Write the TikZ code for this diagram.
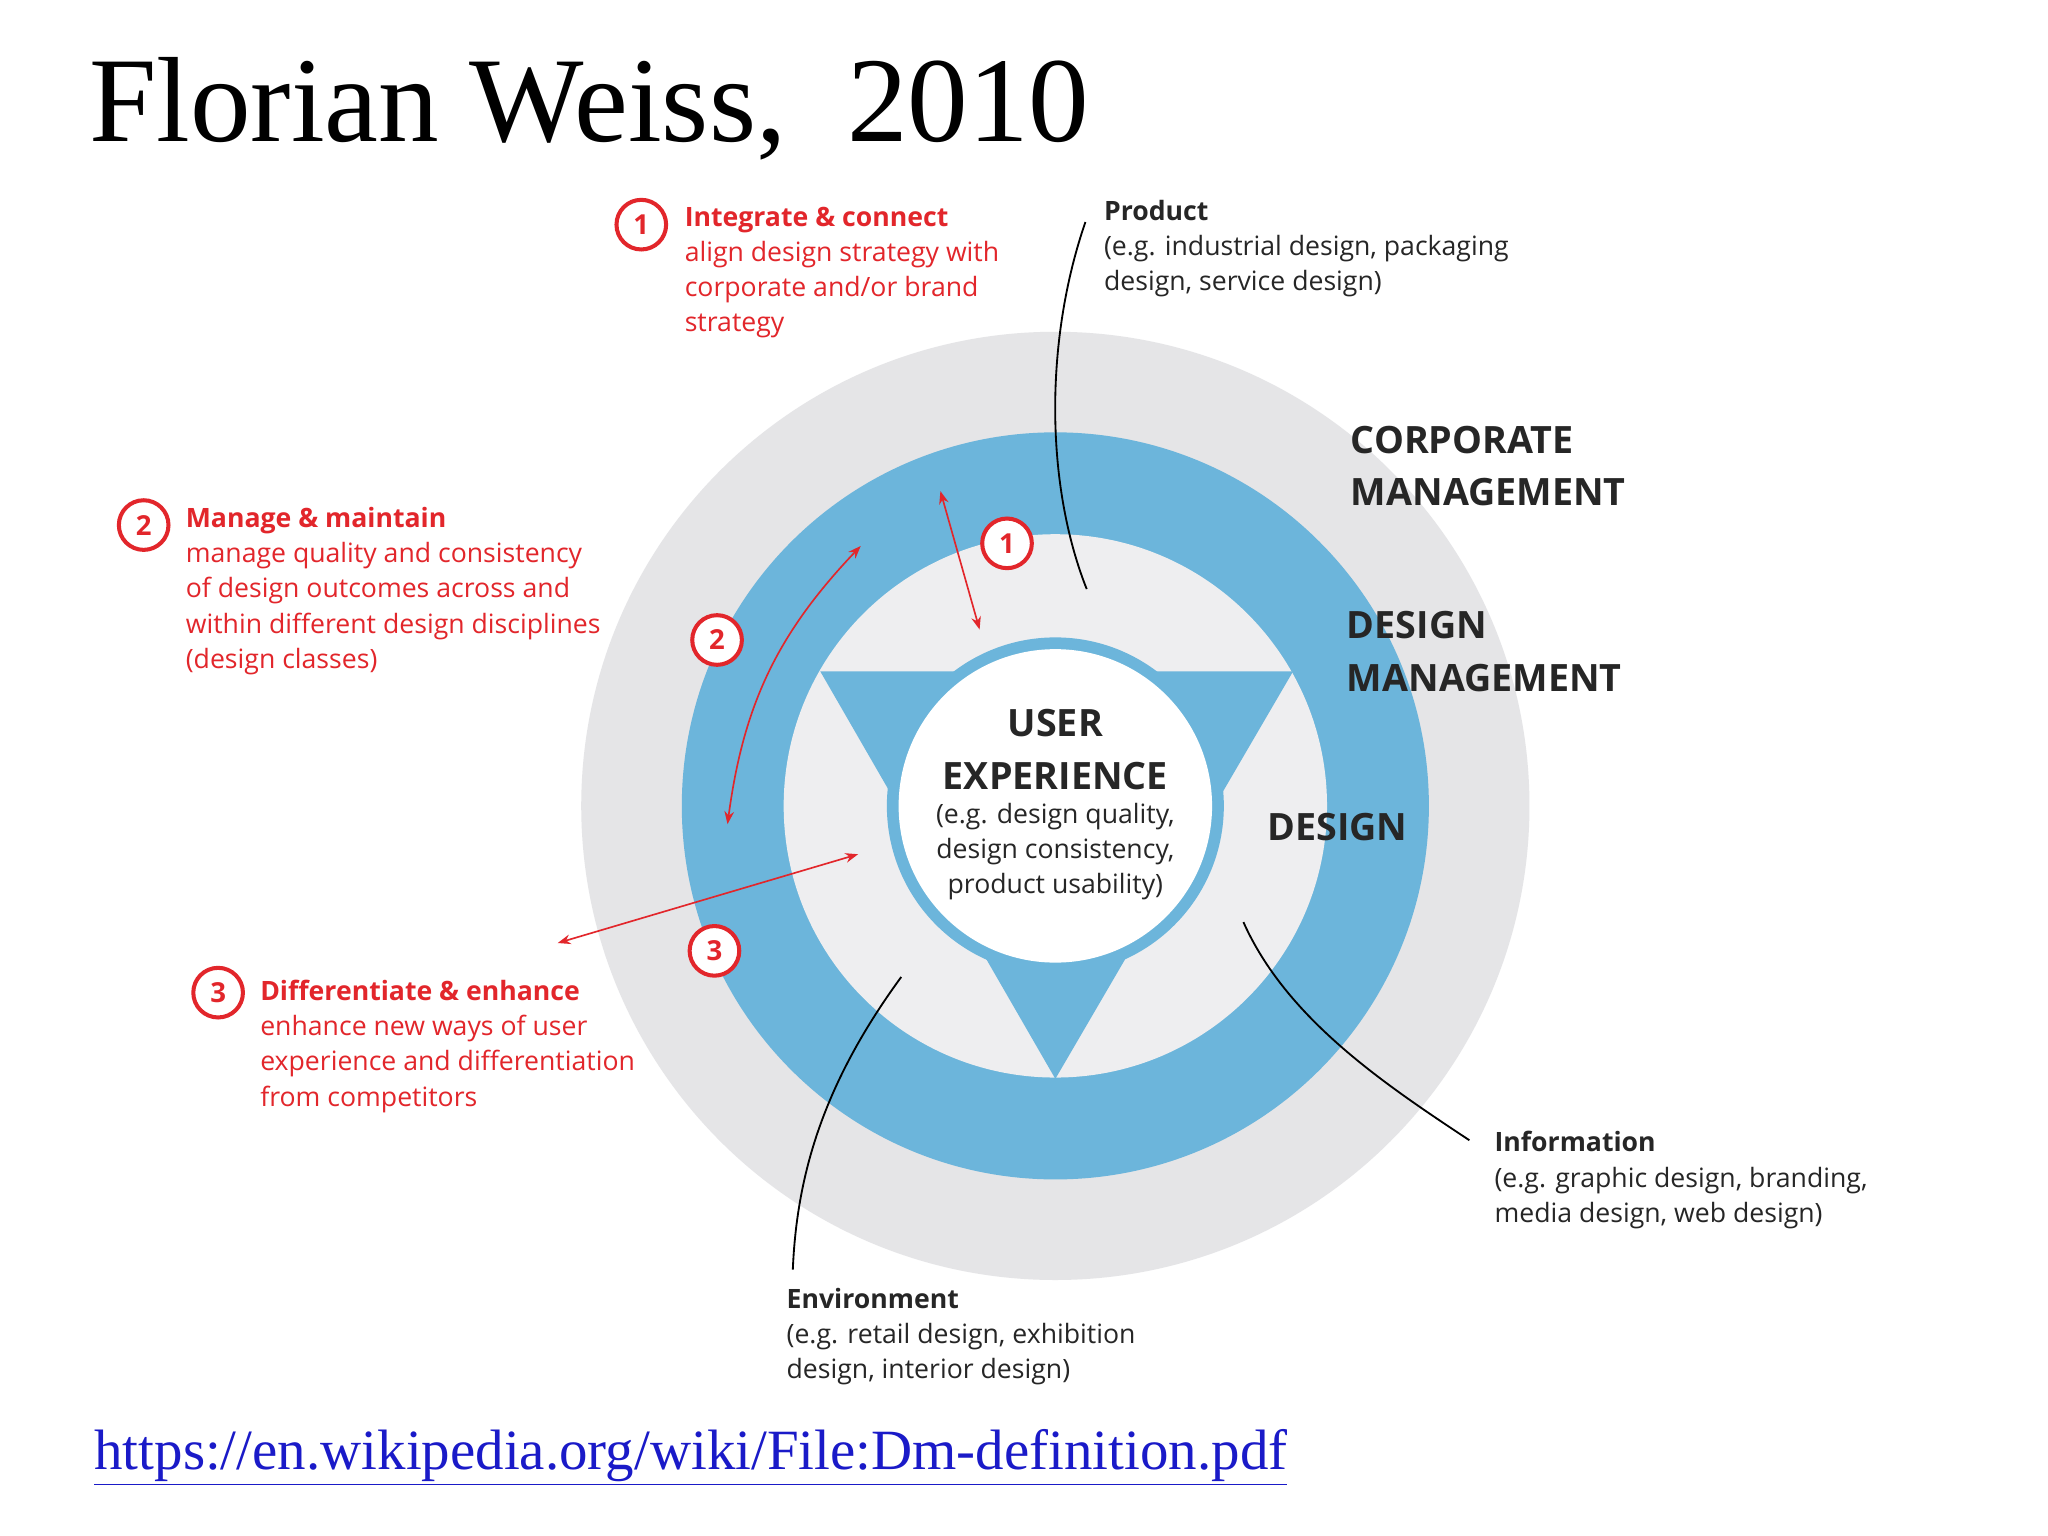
\documentclass[tikz,border=0pt]{standalone}
\usepackage{fontspec}
\setmainfont{Liberation Serif}
\newfontfamily\osans{Open Sans}
\usetikzlibrary{arrows.meta}
\definecolor{dmred}{HTML}{E2262B}
\definecolor{dmblue}{HTML}{6CB5DB}
\definecolor{dmgrey}{HTML}{E5E5E7}
\definecolor{dmlight}{HTML}{EEEEF0}
\definecolor{urlblue}{HTML}{1A1AC8}
\tikzset{
 num/.style={circle,draw=dmred,line width=2.2pt,text=dmred,inner sep=0pt,minimum size=0.95cm,font=\osans\bfseries\fontsize{15}{15}\selectfont,fill=white},
 redtxt/.style={anchor=north west,align=left,text=dmred,font=\osans\fontsize{14.5}{19.2}\selectfont,inner sep=0pt},
 blktxt/.style={anchor=north west,align=left,text=black!85,font=\osans\fontsize{14.5}{19.2}\selectfont,inner sep=0pt},
 biglab/.style={anchor=north west,align=left,text=black!85,font=\osans\bfseries\fontsize{20.5}{28.5}\selectfont,inner sep=0pt},
 redarrow/.style={dmred,line width=0.9pt,{Stealth[length=7pt]}-{Stealth[length=7pt]}},
 leader/.style={black,line width=1pt}
}
\begin{document}
\begin{tikzpicture}[x=0.025cm,y=-0.025cm]
\useasboundingbox (0,0) rectangle (1568,1176);
\fill[white] (0,0) rectangle (1568,1176);
% rings
\fill[dmgrey] (808,617) circle (363);
\fill[dmblue] (808,617) circle (286);
\fill[dmlight] (808,617) circle (208);
\fill[dmblue] (628,514) -- (990,514) -- (808,826) -- cycle;
\fill[dmblue] (808,617) circle (129);
\node[circle,fill=white,minimum size=240*0.025cm,inner sep=0pt] (ux) at (808,617) {};
% texts in center
\node[font=\osans\bfseries\fontsize{20.5}{28.5}\selectfont,text=black!85,align=center] (uxt) at (808,574) {USER\\EXPERIENCE};
\node[font=\osans\fontsize{14.5}{19.2}\selectfont,text=black!85,align=center] (uxs) at (808,652) {(e.g. design quality,\\design consistency,\\product usability)};
\node[biglab] (corp) at (1034,326) {CORPORATE\\MANAGEMENT};
\node[biglab] (dm) at (1031,468) {DESIGN\\MANAGEMENT};
\node[biglab] (des) at (970,622) {DESIGN};
% leaders
\coordinate (p1) at (831,170); \coordinate (p2) at (832,451);
\draw[leader] (p1) .. controls (800,260) and (800,370) .. (p2);
\coordinate (e1) at (690,748); \coordinate (e2) at (607,972);
\draw[leader] (e1) .. controls (630,830) and (610,900) .. (e2);
\coordinate (i1) at (952,706); \coordinate (i2) at (1125,873);
\draw[leader] (i1) .. controls (985,780) and (1060,830) .. (i2);
\node[blktxt] (prod) at (845,153) {\textbf{Product}\\(e.g. industrial design, packaging\\design, service design)};
\node[blktxt] (env) at (602,986) {\textbf{Environment}\\(e.g. retail design, exhibition\\design, interior design)};
\node[blktxt] (info) at (1144,866) {\textbf{Information}\\(e.g. graphic design, branding,\\media design, web design)};
% red arrows
\coordinate (a1) at (720,376); \coordinate (a2) at (750,482);
\draw[redarrow] (a1) -- (a2);
\coordinate (b1) at (659,418); \coordinate (b2) at (557,631);
\draw[redarrow] (b1) to[bend right=18] (b2);
\coordinate (c1) at (427,722); \coordinate (c2) at (657,654);
\draw[redarrow] (c1) -- (c2);
% numbers
\node[num] (n1a) at (491,172) {1};
\node[num] (n2a) at (110,402) {2};
\node[num] (n3a) at (167,760) {3};
\node[num] (n1b) at (771,416) {1};
\node[num] (n2b) at (549,490) {2};
\node[num] (n3b) at (547,728) {3};
\node[redtxt] (t1) at (524,158) {\textbf{Integrate \& connect}\\align design strategy with\\corporate and/or brand\\strategy};
\node[redtxt] (t2) at (142,388) {\textbf{Manage \& maintain}\\manage quality and consistency\\of design outcomes across and\\within different design disciplines\\(design classes)};
\node[redtxt] (t3) at (199,750) {\textbf{Differentiate \& enhance}\\enhance new ways of user\\experience and differentiation\\from competitors};
% title and url
\node[anchor=base west,inner sep=0pt,font=\fontsize{66}{66}\selectfont] (title) at (68,108) {Florian Weiss,\ \ 2010};
\node[anchor=base west,inner sep=0pt,text=urlblue,font=\fontsize{31}{31}\selectfont] (url) at (72,1125) {\underline{https://en.wikipedia.org/wiki/File:Dm-definition.pdf}};
\end{tikzpicture}
\end{document}
